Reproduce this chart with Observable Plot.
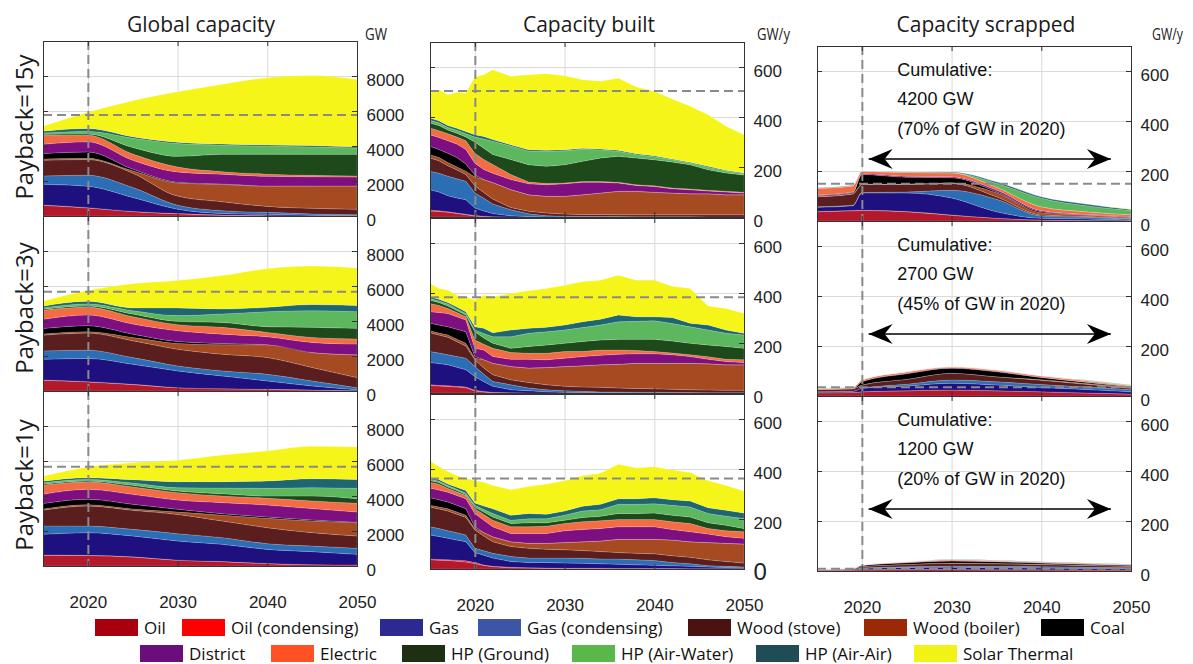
<!DOCTYPE html>
<html>
<head>
<meta charset="utf-8">
<script src="https://cdn.jsdelivr.net/npm/d3@7"></script>
<script src="https://cdn.jsdelivr.net/npm/@observablehq/plot@0.6"></script>
<style>
  html, body { margin: 0; padding: 0; background: #fff; }
  #root { position: relative; width: 1193px; height: 664px; overflow: hidden; background: #fff; }
  #root svg { overflow: visible; }
  .leg { position: absolute; display: flex; align-items: center; font-family: "Open Sans", sans-serif; font-size: 17px; line-height: 17px; color: #111; white-space: nowrap; height: 17px; }
  .leg .sw { width: 43px; height: 17px; margin-right: 6px; flex: none; }
</style>
</head>
<body>
<div id="root"></div>
<script>
// ---------------- DATA ----------------
const seriesNames = ["Oil","Oil (condensing)","Gas","Gas (condensing)","Wood (stove)","Wood (boiler)","Coal","District","Electric","HP (Ground)","HP (Air-Water)","HP (Air-Air)","Solar Thermal"];
const areaColors   = ["#b3192b","#ff1f1f","#1f1080","#2c6eb6","#5a1e1e","#a64a22","#000000","#7e0f80","#f46c43","#1e4a1b","#5cb75f","#1e6672","#f5f51a"];
const legendColors = ["#a8000d","#ff0000","#2a2a90","#3c55a5","#4b1212","#9b2908","#000000","#6b0d7b","#ff5123","#1f2f11","#5ab84b","#1f4c55","#f1f216"];

const colTitles = ["Global capacity","Capacity built","Capacity scrapped"];
const rowLabels = ["Payback=15y","Payback=3y","Payback=1y"];
const unitLabels = ["GW","GW/y","GW/y"];

const capTicks = [0, 2000, 4000, 6000, 8000];
const rateTicks = [0, 200, 400, 600];
const yearTicks = [2020, 2030, 2040, 2050];
const gridYears = [2020, 2030, 2040];
const markYear = 2020;

// Global capacity (GW), one array per series in seriesNames order
const yearsCap = [2015, 2020, 2025, 2030, 2035, 2040, 2045, 2050];
const cap15 = [
  [610, 460, 250, 130, 50, 15, 5, 0],
  [20, 17, 10, 8, 5, 3, 0, 0],
  [1180, 1223, 800, 250, 90, 75, 35, 20],
  [480, 630, 570, 230, 160, 115, 75, 55],
  [900, 895, 820, 520, 510, 340, 325, 305],
  [70, 75, 130, 750, 990, 1160, 1275, 1335],
  [310, 360, 100, 40, 20, 10, 5, 5],
  [530, 580, 510, 590, 560, 550, 525, 505],
  [520, 380, 350, 280, 150, 120, 80, 60],
  [50, 70, 380, 615, 990, 1140, 1200, 1240],
  [80, 140, 530, 725, 520, 460, 420, 360],
  [100, 170, 80, 80, 70, 70, 80, 60],
  [280, 930, 2060, 2880, 3420, 3840, 4000, 3850]
];
const cap3 = [
  [610, 520, 370, 180, 125, 90, 55, 20],
  [20, 15, 10, 10, 5, 5, 2, 0],
  [1180, 1325, 1150, 960, 730, 480, 233, 57],
  [480, 475, 380, 285, 290, 380, 285, 113],
  [900, 975, 960, 955, 950, 955, 765, 575],
  [70, 80, 190, 330, 540, 730, 860, 1305],
  [310, 340, 190, 110, 75, 10, 0, 0],
  [530, 615, 580, 615, 535, 450, 575, 610],
  [520, 440, 420, 345, 390, 250, 285, 290],
  [50, 75, 150, 190, 280, 325, 580, 610],
  [80, 115, 190, 330, 480, 860, 950, 955],
  [100, 155, 160, 440, 290, 250, 350, 345],
  [280, 610, 1375, 1570, 1910, 2205, 2200, 2140]
];
const cap1 = [
  [610, 600, 515, 325, 250, 135, 75, 60],
  [20, 10, 10, 10, 5, 5, 3, 0],
  [1180, 1295, 1190, 1095, 985, 810, 742, 607],
  [480, 380, 380, 420, 380, 325, 320, 343],
  [900, 1145, 1085, 1100, 950, 915, 765, 705],
  [70, 75, 80, 135, 330, 535, 665, 760],
  [310, 305, 265, 155, 90, 75, 60, 25],
  [530, 570, 570, 530, 630, 685, 650, 585],
  [520, 420, 420, 420, 380, 385, 435, 495],
  [50, 60, 95, 95, 130, 130, 285, 270],
  [80, 80, 130, 190, 330, 440, 475, 590],
  [100, 110, 195, 345, 360, 420, 515, 510],
  [280, 610, 970, 1220, 1520, 1710, 1850, 1850]
];
const capDash = [5800, 5700, 5700];

// Capacity built (GW/y)
const yearsBuilt = [2015,2016,2017,2018,2019,2020,2021,2022,2024,2026,2028,2030,2032,2034,2036,2038,2040,2042,2044,2046,2048,2050];
const built15 = [
  [24,22,19,14,9,4,2,0,0,0,0,0,0,0,0,0,0,0,0,0,0,0],
  [3,3,2,2,2,2,1,1,0,0,0,0,0,0,0,0,0,0,0,0,0,0],
  [82,75,64,60,58,30,21,13,5,2,0,0,0,0,0,0,0,0,0,0,0,0],
  [74,75,78,77,74,60,51,38,24,11,5,3,2,2,2,1,1,1,1,0,0,0],
  [53,50,42,35,27,29,23,20,9,10,11,9,8,8,7,8,8,8,8,9,9,9],
  [13,13,13,12,13,35,52,66,72,66,67,71,79,86,94,94,90,87,84,84,80,80],
  [34,32,37,38,29,8,0,0,0,0,0,0,0,0,0,0,0,0,0,0,0,0],
  [46,48,50,54,58,47,40,37,40,44,46,50,50,43,33,23,23,17,16,11,11,7],
  [27,27,28,28,35,40,40,35,20,7,5,3,3,3,3,3,3,3,3,3,3,3],
  [20,21,15,15,15,45,45,40,60,69,69,73,81,94,104,107,104,104,97,82,73,69],
  [11,11,10,12,13,20,37,53,54,54,59,56,48,32,20,13,12,9,7,10,8,5],
  [9,8,8,8,9,9,10,7,5,6,5,4,4,4,4,4,4,3,3,4,3,3],
  [100,124,123,144,154,231,247,279,274,300,306,296,274,271,288,267,258,240,224,206,176,153]
];
const built3 = [
  [30,28,26,24,21,8,4,1,0,0,0,0,0,0,0,0,0,0,0,0,0,0],
  [3,3,3,3,3,3,2,2,1,0,0,0,0,0,0,0,0,0,0,0,0,0],
  [89,87,84,76,69,55,39,24,12,9,5,3,2,1,1,0,0,0,0,0,0,0],
  [44,42,40,43,46,40,30,19,20,11,8,6,5,3,3,3,3,2,2,1,1,1],
  [75,72,70,59,49,27,25,27,20,22,20,18,17,19,16,15,14,13,11,11,10,10],
  [8,8,9,10,11,6,33,46,53,58,69,79,85,90,95,101,102,104,106,105,102,102],
  [30,32,33,40,46,7,0,0,0,0,0,0,0,0,0,0,0,0,0,0,0,0],
  [46,50,53,50,47,33,39,27,29,35,31,33,37,38,40,38,38,34,27,18,13,9],
  [33,28,20,17,13,33,23,33,27,24,26,27,20,21,17,13,9,7,7,10,9,11],
  [13,12,10,8,7,33,25,20,17,27,33,33,40,40,43,45,49,48,46,47,51,46],
  [7,6,8,6,6,7,18,26,46,53,53,53,56,60,70,72,74,70,66,60,53,53],
  [7,7,6,8,7,13,21,16,27,20,18,20,23,23,27,18,16,24,14,20,13,7],
  [53,43,49,47,60,107,132,144,146,150,155,159,160,156,159,146,146,125,139,76,86,79]
];
const built1 = [
  [37,35,34,31,28,22,14,9,5,4,3,2,2,2,2,1,1,1,1,0,0,0],
  [3,3,3,4,5,4,2,2,2,1,1,1,1,1,0,1,1,1,0,1,1,1],
  [96,92,86,81,76,40,39,33,23,21,22,21,20,18,17,15,13,11,10,7,5,3],
  [33,32,30,29,27,17,18,19,20,18,18,20,20,19,21,20,19,13,10,5,5,4],
  [79,78,79,74,70,73,59,46,40,39,35,33,31,30,26,26,27,27,26,24,19,16],
  [7,8,9,9,9,6,14,20,19,20,24,29,35,42,53,56,58,63,62,69,73,76],
  [30,29,27,27,26,7,0,0,0,0,0,0,0,0,0,0,0,0,0,0,0,0],
  [39,39,39,39,40,53,49,40,33,39,39,47,49,50,50,50,50,42,40,34,26,23],
  [23,23,15,14,13,19,23,26,27,27,29,29,31,31,29,29,29,31,33,22,24,26],
  [7,7,6,6,4,7,10,13,13,16,14,13,17,18,24,24,26,26,26,23,22,13],
  [5,5,6,5,5,7,10,14,13,16,16,20,26,26,37,37,37,40,40,37,36,40],
  [8,7,6,8,11,9,14,19,20,21,18,17,19,22,22,22,24,22,24,23,24,22],
  [66,51,50,46,50,89,95,93,102,108,121,121,122,124,138,123,124,119,114,108,99,87]
];
const builtDash = [506, 385, 364];

// Capacity scrapped (GW/y)
const yearsScrap = [2015, 2019, 2020, 2025, 2030, 2035, 2040, 2045, 2050];
const scr15 = [
  [37,41,42,37,23,11,4,2,1],
  [1,1,1,1,1,0,0,0,0],
  [17,19,69,74,68,26,7,6,2],
  [2,2,2,4,31,50,9,7,5],
  [40,45,32,30,27,10,4,3,2],
  [2,2,2,2,3,16,9,6,5],
  [2,3,38,27,20,4,4,1,0],
  [3,3,3,4,4,7,4,2,3],
  [27,25,10,15,16,11,16,10,7],
  [0,0,0,0,0,0,0,0,0],
  [0,0,0,0,0,16,34,24,17],
  [2,2,1,2,3,6,6,7,4],
  [0,0,0,0,0,0,0,0,2]
];
const scr3 = [
  [13,14,17,21,24,21,17,12,8],
  [0,0,0,0,0,0,0,0,0],
  [4,5,14,19,27,23,17,14,9],
  [0,0,0,7,13,13,12,10,8],
  [9,10,13,20,27,20,17,11,6],
  [0,0,0,0,0,0,2,3,3],
  [1,1,13,22,20,20,9,5,2],
  [0,0,1,2,2,2,1,1,1],
  [4,5,6,6,4,5,6,5,4],
  [0,0,0,0,0,0,0,0,0],
  [0,0,0,0,0,0,0,2,2],
  [0,0,0,0,0,0,0,1,1],
  [0,0,0,0,0,0,0,0,0]
];
const scr1 = [
  [3,4,5,6,6,5,5,4,4],
  [0,0,0,0,0,0,0,0,0],
  [2,3,6,8,9,8,7,6,5],
  [0,0,1,3,4,5,5,5,4],
  [2,3,6,9,12,11,9,7,6],
  [0,0,0,0,1,1,1,1,1],
  [0,0,4,7,8,7,5,4,3],
  [0,0,0,1,1,1,1,1,1],
  [1,1,2,3,4,3,3,3,2],
  [0,0,0,0,0,0,0,0,0],
  [0,0,0,0,1,1,0,0,0],
  [0,0,0,0,1,1,1,1,1],
  [0,0,0,0,0,0,0,0,0]
];
const scrapDash = [151, 37, 11];
const scrapNotes = [
  ["Cumulative:", "4200 GW", "(70% of GW in 2020)"],
  ["Cumulative:", "2700 GW", "(45% of GW in 2020)"],
  ["Cumulative:", "1200 GW", "(20% of GW in 2020)"]
];
const noteX = 2023.9;
const noteY = [607, 490, 370];
const arrowSpan = [2020.7, 2047.7];
const arrowY = 250;

// ---------------- LAYOUT ----------------
const W = 314, H = 175, ML = 10, MT = 10, MR = 80;
const colX = [43, 430, 817];
const rowY = [[41, 216, 391], [42, 218, 394], [46, 221, 396]];
const legendX = [95, 182, 380, 478, 688, 864, 1041, 140, 271, 402, 572, 756, 914];
const legendTop = [619, 645];

const root = document.getElementById("root");

function stackRows(years, values) {
  const rows = [];
  values.forEach((arr, i) => arr.forEach((v, j) => rows.push({year: years[j], series: seriesNames[i], value: v})));
  return rows;
}

const headRight = {draw(ctx) { ctx.moveTo(0, 0); ctx.lineTo(-24, -10); ctx.lineTo(-16, 0); ctx.lineTo(-24, 10); ctx.closePath(); }};
const headLeft  = {draw(ctx) { ctx.moveTo(0, 0); ctx.lineTo(24, -10); ctx.lineTo(16, 0); ctx.lineTo(24, 10); ctx.closePath(); }};

const columns = [
  {years: yearsCap, panels: [cap15, cap3, cap1], domain: [0, 10000], ticks: capTicks, dash: capDash, curve: "monotone-x"},
  {years: yearsBuilt, panels: [built15, built3, built1], domain: [0, 700], ticks: rateTicks, dash: builtDash, curve: "linear"},
  {years: yearsScrap, panels: [scr15, scr3, scr1], domain: [0, 700], ticks: rateTicks, dash: scrapDash, curve: "monotone-x"}
];

columns.forEach((col, c) => {
  col.panels.forEach((values, r) => {
    const bottom = r === 2;
    const MB = bottom ? 50 : 10;
    const dashStyle = {stroke: "#8a8a8a", strokeWidth: 2, strokeDasharray: "9,5"};
    const marks = [
      Plot.gridX(gridYears, {stroke: "#dadada", strokeOpacity: 1}),
      Plot.gridY(col.ticks, {stroke: "#dadada", strokeOpacity: 1}),
      Plot.areaY(stackRows(col.years, values), {
        x: "year", y: "value", z: "series", fill: "series", order: seriesNames,
        curve: col.curve, stroke: "#ffffff", strokeOpacity: 0.25, strokeWidth: 0.6
      }),
      Plot.ruleX([markYear], {x: d => d, ...dashStyle}),
      Plot.ruleY([col.dash[r]], {y: d => d, ...dashStyle}),
      Plot.tickX(gridYears, {x: d => d, insetTop: H - 5, stroke: "#333"}),
      Plot.tickX(gridYears, {x: d => d, insetBottom: H - 5, stroke: "#333"}),
      Plot.tickY(col.ticks, {y: d => d, insetRight: W - 5, stroke: "#333"}),
      Plot.tickY(col.ticks, {y: d => d, insetLeft: W - 5, stroke: "#333"}),
      Plot.frame({stroke: "#333", strokeWidth: 1})
    ];
    const bigZero = c === 1 && r === 2;
    marks.push(Plot.axisY({
      ticks: bigZero ? col.ticks.filter(t => t !== 0) : col.ticks,
      anchor: "right", tickSize: 0, tickPadding: 9, dy: 4, fontSize: 17,
      tickFormat: d => String(d), label: null
    }));
    if (bigZero) {
      marks.push(Plot.axisY({ticks: [0], anchor: "right", tickSize: 0, tickPadding: 9, dy: 3, fontSize: 24, tickFormat: d => String(d), label: null}));
    }
    if (bottom) {
      marks.push(Plot.axisX({ticks: yearTicks, anchor: "bottom", tickSize: 0, tickPadding: 29, fontSize: 17, tickFormat: d => String(d), label: null}));
    }
    if (c === 2) {
      const notes = scrapNotes[r].map((t, i) => ({x: noteX, y: noteY[i], t}));
      marks.push(Plot.text(notes, {x: "x", y: "y", text: "t", textAnchor: "start", fontSize: 18, fontFamily: "Liberation Sans, Arial, sans-serif", fill: "#111"}));
      marks.push(Plot.link([{x1: arrowSpan[0], x2: arrowSpan[1], y: arrowY}], {x1: "x1", x2: "x2", y1: "y", y2: "y", stroke: "#000", strokeWidth: 1.3}));
      marks.push(Plot.dot([{x: arrowSpan[1], y: arrowY}], {x: "x", y: "y", symbol: headRight, fill: "#000", stroke: "none", r: 10}));
      marks.push(Plot.dot([{x: arrowSpan[0], y: arrowY}], {x: "x", y: "y", symbol: headLeft, fill: "#000", stroke: "none", r: 10}));
    }
    const svg = Plot.plot({
      width: ML + W + MR, height: MT + H + MB,
      marginLeft: ML, marginRight: MR, marginTop: MT, marginBottom: MB,
      x: {domain: [2015, 2050], axis: null},
      y: {domain: col.domain, axis: null},
      color: {domain: seriesNames, range: areaColors},
      style: {background: "transparent", fontFamily: "Liberation Sans, Arial, sans-serif", fontSize: "17px", color: "#222", overflow: "visible", maxWidth: "none"},
      marks
    });
    svg.style.position = "absolute";
    svg.style.left = (colX[c] - ML) + "px";
    svg.style.top = (rowY[c][r] - MT) + "px";
    root.appendChild(svg);
  });
});

// ---------------- TEXT OVERLAY ----------------
const NS = "http://www.w3.org/2000/svg";
const ov = document.createElementNS(NS, "svg");
ov.setAttribute("width", 1193); ov.setAttribute("height", 664);
ov.style.position = "absolute"; ov.style.left = "0px"; ov.style.top = "0px"; ov.style.pointerEvents = "none";
function addText(str, attrs) {
  const t = document.createElementNS(NS, "text");
  for (const k in attrs) t.setAttribute(k, attrs[k]);
  t.textContent = str;
  ov.appendChild(t);
  return t;
}
const titleX = [201, 589, 986];
colTitles.forEach((s, i) => addText(s, {x: titleX[i], y: 32, "text-anchor": "middle", "font-family": "Open Sans, sans-serif", "font-size": 21, fill: "#1a1a1a"}));
const unitX = [365, 757, 1152], unitW = [22, 33, 31];
unitLabels.forEach((s, i) => addText(s, {x: unitX[i], y: 40, "font-family": "Open Sans, sans-serif", "font-size": 16, fill: "#222", textLength: unitW[i], lengthAdjust: "spacingAndGlyphs"}));
const rowCY = [127, 308, 485];
rowLabels.forEach((s, i) => addText(s, {x: 0, y: 0, transform: `translate(23,${rowCY[i]}) rotate(-90)`, "text-anchor": "middle", "dominant-baseline": "central", "font-family": "Open Sans, sans-serif", "font-size": 24, fill: "#1a1a1a"}));
root.appendChild(ov);

// ---------------- LEGEND ----------------
seriesNames.forEach((name, i) => {
  const d = document.createElement("div");
  d.className = "leg";
  d.style.left = legendX[i] + "px";
  d.style.top = (i < 7 ? legendTop[0] : legendTop[1]) + "px";
  const sw = document.createElement("span");
  sw.className = "sw";
  sw.style.background = legendColors[i];
  const tx = document.createElement("span");
  tx.textContent = name;
  d.appendChild(sw); d.appendChild(tx);
  root.appendChild(d);
});
</script>
</body>
</html>
